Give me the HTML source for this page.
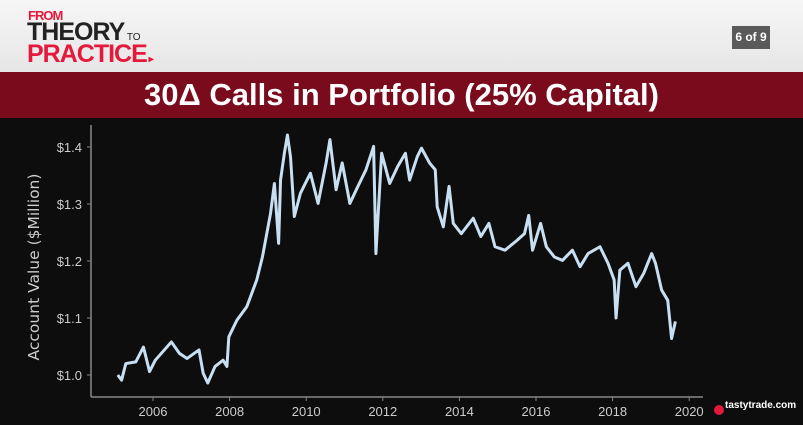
<!DOCTYPE html>
<html><head><meta charset="utf-8">
<style>
body{margin:0;width:803px;height:425px;overflow:hidden;background:#0c0c0c;font-family:"Liberation Sans",sans-serif;}
#hdr{position:absolute;left:0;top:0;width:803px;height:72px;background:linear-gradient(#f6f6f6,#e6e6e6);}
#band{position:absolute;left:0;top:72px;width:803px;height:46px;background:#7a0b1c;color:#fff;font-weight:bold;font-size:31px;text-align:center;line-height:46px;}
#chartbg{position:absolute;left:0;top:118px;width:803px;height:307px;background:#0d0d0d;}
.logo{position:absolute;font-weight:bold;letter-spacing:-1px;}
#page{position:absolute;left:732px;top:26px;width:38px;height:23px;background:#5a5a5a;color:#fff;font-size:12px;font-weight:bold;text-align:center;line-height:23px;}
svg{position:absolute;left:0;top:0;}
</style></head><body>
<div id="hdr">
 <div class="logo" style="left:28px;top:8px;font-size:13px;color:#e4193b;">FROM</div>
 <div class="logo" style="left:27px;top:18px;font-size:25px;color:#222;">THEORY<span style="font-size:10px;letter-spacing:0;font-weight:normal;"> TO</span></div>
 <div class="logo" style="left:27px;top:40px;font-size:25px;color:#e4193b;">PRACTICE<span style="font-size:10px;"> ▸</span></div>
 <div id="page">6 of 9</div>
</div>
<div id="band">30Δ Calls in Portfolio (25% Capital)</div>
<div id="chartbg"></div>
<svg id="chart" width="803" height="425"></svg>
<script>
const years=[2005.08,2005.18,2005.29,2005.55,2005.75,2005.91,2006.06,2006.48,2006.69,2006.89,2007.20,2007.31,2007.43,2007.62,2007.83,2007.93,2007.98,2008.19,2008.45,2008.71,2008.86,2009.07,2009.17,2009.28,2009.33,2009.43,2009.51,2009.59,2009.69,2009.85,2010.11,2010.31,2010.52,2010.62,2010.78,2010.94,2011.14,2011.35,2011.56,2011.76,2011.82,2011.97,2012.18,2012.39,2012.59,2012.70,2012.90,2013.01,2013.22,2013.37,2013.42,2013.58,2013.73,2013.84,2014.05,2014.36,2014.56,2014.77,2014.93,2015.19,2015.50,2015.70,2015.81,2015.91,2016.12,2016.27,2016.48,2016.69,2016.95,2017.15,2017.36,2017.67,2017.88,2018.04,2018.09,2018.19,2018.40,2018.61,2018.81,2019.02,2019.12,2019.28,2019.44,2019.54,2019.64];
const values=[1.00,0.991,1.02,1.023,1.049,1.006,1.026,1.058,1.038,1.029,1.044,1.003,0.986,1.015,1.026,1.015,1.067,1.096,1.12,1.167,1.208,1.284,1.336,1.231,1.342,1.389,1.421,1.383,1.278,1.319,1.354,1.301,1.372,1.413,1.325,1.372,1.301,1.331,1.36,1.401,1.213,1.389,1.336,1.366,1.389,1.342,1.383,1.398,1.372,1.36,1.295,1.26,1.331,1.266,1.248,1.275,1.243,1.266,1.225,1.219,1.236,1.248,1.28,1.219,1.266,1.225,1.207,1.201,1.219,1.19,1.213,1.225,1.196,1.167,1.1,1.184,1.196,1.155,1.178,1.213,1.196,1.149,1.131,1.064,1.094];
const xTicks=[2006,2008,2010,2012,2014,2016,2018,2020];
const yTicks=[1.0,1.1,1.2,1.3,1.4];
const yTickLabels=["$1.0","$1.1","$1.2","$1.3","$1.4"];
const X=y=>153+(y-2006)*38.3;
const Y=v=>375-(v-1.0)*570;
const svg=document.getElementById('chart');
const NS='http://www.w3.org/2000/svg';
function mk(t,a){const e=document.createElementNS(NS,t);for(const k in a)e.setAttribute(k,a[k]);svg.appendChild(e);return e;}
const ya=mk('line',{x1:91,y1:125,x2:91,y2:397,stroke:'#888','stroke-width':1.5});


const xa=mk('line',{x1:91,y1:397,x2:703,y2:397,stroke:'#888','stroke-width':1.5});


xTicks.forEach(t=>{
 const l=mk('line',{x1:X(t),y1:397,x2:X(t),y2:401,stroke:'#888'});
 
 
 const tx=mk('text',{x:X(t),y:416,fill:'#ccc','font-size':13,'text-anchor':'middle','font-family':'Liberation Sans, sans-serif'});
 tx.textContent=t;
 
 
});
yTicks.forEach((t,i)=>{
 const l=mk('line',{x1:87,y1:Y(t),x2:91,y2:Y(t),stroke:'#888'});
 
 
 const tx=mk('text',{x:82,y:Y(t)+5,fill:'#ccc','font-size':13,'text-anchor':'end','font-family':'Liberation Sans, sans-serif'});
 tx.textContent=yTickLabels[i];
 
 
});
const yt=mk('text',{x:0,y:0,fill:'#ccc','font-size':15.5,'text-anchor':'middle','font-family':'DejaVu Sans, sans-serif',transform:'translate(39,267) rotate(-90)'});
yt.textContent='Account Value ($Million)';


const p=mk('polyline',{points:years.map((y,i)=>X(y)+','+Y(values[i])).join(' '),fill:'none',stroke:'#c8dff2','stroke-width':3,'stroke-linejoin':'round'});


const c=mk('circle',{cx:719,cy:410,r:5,fill:'#e4193b'});


const lt=mk('text',{x:725,y:408,fill:'#fff','font-size':10,'font-weight':'bold','font-family':'Liberation Sans, sans-serif'});
lt.textContent='tastytrade.com';


</script>
</body></html>
